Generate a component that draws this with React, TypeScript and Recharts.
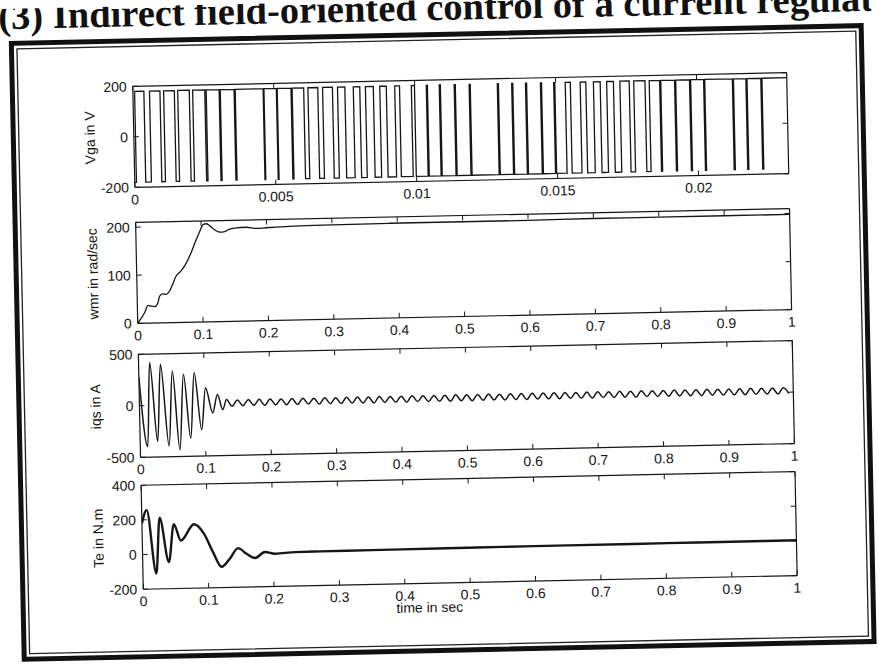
import React from 'react';
import { LineChart, Line, XAxis, YAxis } from 'recharts';

const INK = '#161616';
const SANS = '"Liberation Sans", Arial, sans-serif';

// Vga: inverter phase voltage, low (-level) intervals in ms, high elsewhere
const vgaLevel = 180;
const vgaEndMs = 23.2;
const vgaLowsMs: [number, number][] = [
  [0, 0.06], [0.39, 0.59], [0.96, 1.09], [1.47, 1.59], [2.0, 2.12],
  [2.55, 2.6], [3.06, 3.1], [3.59, 3.63], [4.62, 4.65], [5.09, 5.12], [5.61, 5.65],
  [6.06, 6.21], [6.56, 6.73], [7.08, 7.26], [7.52, 7.82], [8.05, 8.25], [8.53, 8.76], [8.99, 9.29],
  [9.46, 9.88], [9.99, 10.41], [10.45, 10.87], [10.91, 11.4], [11.44, 11.93], [11.97, 12.93],
  [12.97, 13.44], [13.48, 13.93], [13.97, 14.46], [14.5, 14.93], [14.97, 15.34],
  [15.52, 15.87], [16.07, 16.34], [16.58, 16.81], [17.05, 17.28], [17.61, 17.77], [18.17, 18.32],
  [18.69, 18.73], [19.22, 19.26], [19.75, 19.79], [20.25, 20.29], [21.27, 21.31], [21.75, 21.79], [22.28, 22.32],
];
const vgaXTicks = [0, 0.005, 0.01, 0.015, 0.02];
const vgaYTicks = [-200, 0, 200];

// rotor speed (rad/sec)
const wmrPoints: [number, number][] = [
  [0, 0], [0.011, 22], [0.0163, 37], [0.0214, 35], [0.0265, 34], [0.0316, 42], [0.0341, 55],
  [0.0392, 60], [0.0443, 59], [0.0494, 65], [0.0545, 79], [0.0595, 95], [0.0672, 106],
  [0.0748, 120], [0.0824, 140], [0.0901, 165], [0.0977, 188], [0.1028, 202], [0.1079, 204],
  [0.113, 200], [0.1206, 191], [0.1282, 186], [0.1359, 187], [0.1435, 192], [0.1537, 194],
  [0.169, 195], [0.1842, 192], [0.1995, 193], [0.2148, 194], [0.235, 195], [0.286, 196],
  [0.388, 197], [0.5, 197], [0.6, 197], [0.7, 198], [0.8, 198], [0.9, 198], [1, 198],
];
const wmrYTicks = [0, 100, 200];

// q-axis current (A): start-up transient, then steady ripple peaks
const iqsTransient: [number, number][] = [
  [0, 280], [0.0113, -398], [0.0169, 418], [0.0267, -351], [0.0333, 398], [0.0441, -397],
  [0.0513, 331], [0.0605, -436], [0.0682, 296], [0.0774, -325], [0.0846, 310], [0.0944, -245],
  [0.1015, 161], [0.1118, -84], [0.1195, 94], [0.1272, -54], [0.1333, 43],
];
const iqsRippleStart = 0.1415;
const iqsRippleHalfPeriod = 0.00835;
const iqsRipple = [
  -24, 36, -20, 39, -19, 38, -21, 40, -18, 37,
  -20, 39, -19, 41, -17, 38, -20, 40, -18, 39,
  -19, 41, -17, 40, -18, 38, -20, 41, -17, 39,
  -18, 40, -19, 42, -16, 39, -18, 41, -17, 40,
  -19, 42, -16, 40, -18, 41, -17, 43, -15, 40,
  -17, 42, -16, 41, -18, 43, -15, 41, -16, 42,
  -17, 43, -15, 41, -16, 42, -17, 44, -14, 42,
  -16, 43, -15, 42, -17, 44, -14, 42, -15, 43,
  -16, 44, -14, 42, -15, 43, -16, 45, -13, 43,
  -15, 44, -14, 43, -16, 45, -13, 43, -14, 44,
  -15, 45, -13,
];
const iqsYTicks = [-500, 0, 500];

// electromagnetic torque (N.m)
const tePoints: [number, number][] = [
  [0, 180], [0.0077, 256], [0.0205, -111], [0.0272, 211], [0.04, -46], [0.0487, 171],
  [0.059, 76], [0.0795, 169], [0.0949, 111], [0.1077, 6], [0.1205, -80], [0.1333, -34],
  [0.1462, 26], [0.159, -8], [0.1718, -33], [0.1872, 0], [0.2026, -11], [0.2333, -4],
  [0.2718, -3], [0.35, -2], [0.45, 0], [0.55, 1], [0.65, 2], [0.75, 2], [0.85, 3], [0.95, 3], [1, 4],
];
const teYTicks = [-200, 0, 200, 400];

const timeTicks = [0, 0.1, 0.2, 0.3, 0.4, 0.5, 0.6, 0.7, 0.8, 0.9, 1];

const vgaData = (() => {
  const out = [{ t: 0, v: -vgaLevel }];
  vgaLowsMs.forEach(([a, b]) => {
    if (a > 0) out.push({ t: a / 1000, v: -vgaLevel });
    out.push({ t: b / 1000, v: vgaLevel });
  });
  out.push({ t: vgaEndMs / 1000, v: vgaLevel });
  return out;
})();
const wmrData = wmrPoints.map(([t, v]) => ({ t, v }));
const iqsData = [
  ...iqsTransient.map(([t, v]) => ({ t, v })),
  ...iqsRipple.map((v, i) => ({ t: iqsRippleStart + i * iqsRippleHalfPeriod, v })),
];
const teData = tePoints.map(([t, v]) => ({ t, v }));

const BottomTick = (props: any) => {
  const { x, y, payload } = props;
  return (
    <g>
      <line x1={x} x2={x} y1={y} y2={y - 5} stroke={INK} />
      <text x={x} y={y + 17} textAnchor="middle" fontSize={14} fontFamily={SANS} fill={INK}>
        {String(payload.value)}
      </text>
    </g>
  );
};
const TopTick = (props: any) => {
  const { x, y } = props;
  return <line x1={x} x2={x} y1={y} y2={y + 5} stroke={INK} />;
};
const LeftTick = (props: any) => {
  const { x, y, payload } = props;
  return (
    <g>
      <line x1={x} x2={x + 5} y1={y} y2={y} stroke={INK} />
      <text x={x - 6} y={y + 5} textAnchor="end" fontSize={14} fontFamily={SANS} fill={INK}>
        {String(payload.value)}
      </text>
    </g>
  );
};
const RightTick = (props: any) => {
  const { x, y } = props;
  return <line x1={x} x2={x - 5} y1={y} y2={y} stroke={INK} />;
};

interface PanelProps {
  top: number;
  boxH: number;
  data: { t: number; v: number }[];
  xDomain: [number, number];
  xTicks: number[];
  yDomain: [number, number];
  yTicks: number[];
  label: string;
  curve: 'monotone' | 'stepAfter' | 'linear';
  width: number;
}

function Panel({ top, boxH, data, xDomain, xTicks, yDomain, yTicks, label, curve, width }: PanelProps) {
  const axisLine = { stroke: INK, strokeWidth: 1.2 };
  return (
    <div style={{ position: 'absolute', left: 0, top: top - 10 }}>
      <LineChart width={878} height={boxH + 40} data={data} margin={{ top: 9, right: 85, bottom: 0, left: 50 }}>
        <XAxis xAxisId="b" type="number" dataKey="t" domain={xDomain} ticks={xTicks} interval={0}
          allowDataOverflow height={30} tickSize={0} tickMargin={0} tickLine={false}
          axisLine={axisLine} tick={<BottomTick />} />
        <XAxis xAxisId="t" orientation="top" type="number" dataKey="t" domain={xDomain} ticks={xTicks}
          interval={0} allowDataOverflow height={1} tickSize={0} tickMargin={0} tickLine={false}
          axisLine={axisLine} tick={<TopTick />} />
        <YAxis yAxisId="l" type="number" domain={yDomain} ticks={yTicks} interval={0} allowDataOverflow
          width={88} tickSize={0} tickMargin={0} tickLine={false} axisLine={axisLine} tick={<LeftTick />}
          label={{ value: label, angle: -90, position: 'center', fontSize: 14, fontFamily: SANS, fill: INK }} />
        <YAxis yAxisId="r" orientation="right" type="number" domain={yDomain} ticks={yTicks} interval={0}
          allowDataOverflow width={1} tickSize={0} tickMargin={0} tickLine={false} axisLine={axisLine}
          tick={<RightTick />} />
        <Line xAxisId="b" yAxisId="l" type={curve} dataKey="v" stroke={INK} strokeWidth={width}
          dot={false} activeDot={false} isAnimationActive={false} />
      </LineChart>
    </div>
  );
}

export default function App() {
  return (
    <div style={{ position: 'absolute', left: 0, top: 0, width: 878, height: 666, overflow: 'hidden', background: '#fff' }}>
      <div style={{ position: 'absolute', left: 0, top: 0, width: 878, height: 666, transform: 'rotate(-1.2deg)', transformOrigin: '439px 333px' }}>
        <svg width={878} height={666} style={{ position: 'absolute', left: 0, top: 0 }}>
          <text x={5} y={20} fontFamily='"Liberation Serif", "Times New Roman", serif' fontWeight="bold" fontSize={38.5} fill="#111">
            (3) Indirect field-oriented control of a current regulated
          </text>
          <rect x={17.5} y={34.5} width={850} height={616} fill="none" stroke="#111" strokeWidth={5} />
          <rect x={23} y={40} width={839} height={605} fill="none" stroke="#222" strokeWidth={1.3} />
          <text x={424} y={612} textAnchor="middle" fontFamily={SANS} fontSize={14} fill={INK}>time in sec</text>
        </svg>
        <Panel top={80} boxH={101} data={vgaData} xDomain={[0, 0.0232]} xTicks={vgaXTicks}
          yDomain={[-200, 200]} yTicks={vgaYTicks} label="Vga in V" curve="stepAfter" width={1.3} />
        <Panel top={216} boxH={101} data={wmrData} xDomain={[0, 1]} xTicks={timeTicks}
          yDomain={[0, 210]} yTicks={wmrYTicks} label="wmr in rad/sec" curve="monotone" width={1.3} />
        <Panel top={348} boxH={103} data={iqsData} xDomain={[0, 1]} xTicks={timeTicks}
          yDomain={[-500, 500]} yTicks={iqsYTicks} label="iqs in A" curve="monotone" width={1.5} />
        <Panel top={479} boxH={104} data={teData} xDomain={[0, 1]} xTicks={timeTicks}
          yDomain={[-200, 400]} yTicks={teYTicks} label="Te in N.m" curve="monotone" width={2.4} />
      </div>
    </div>
  );
}
